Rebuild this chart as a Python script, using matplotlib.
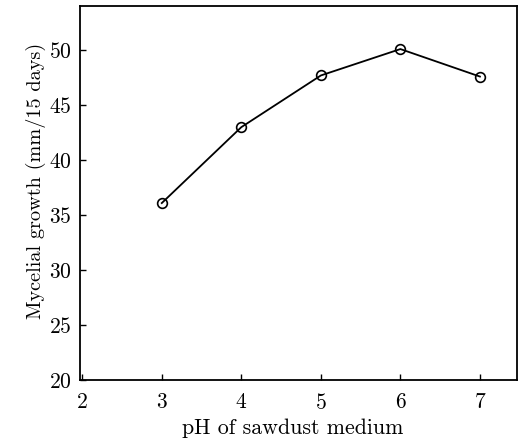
import matplotlib
matplotlib.use("Agg")
from matplotlib import pyplot as plt

# values
ph = [3, 4, 5, 6, 7]
growth = [36.1, 43.0, 47.7, 50.1, 47.6]
xticks = [2, 3, 4, 5, 6, 7]
yticks = [20, 25, 30, 35, 40, 45, 50]

plt.rcParams['font.family'] = ['cmr10', 'DejaVu Serif']
plt.rcParams['axes.formatter.use_mathtext'] = True

fig = plt.figure(figsize=(5.22, 4.4), dpi=100)
ax = fig.add_axes([0.153, 0.136, 0.838, 0.850])

ax.plot(ph, growth, color='black', linewidth=1.3, marker='o',
        markersize=7, markerfacecolor='none', markeredgewidth=1.2)

ax.set_xlim(1.97, 7.47)
ax.set_ylim(20, 54)
ax.set_xticks(xticks)
ax.set_yticks(yticks)
ax.tick_params(direction='in', length=4, width=1, labelsize=15.5)
ax.tick_params(axis='x', pad=9)
ax.tick_params(axis='y', pad=6)

for s in ax.spines.values():
    s.set_linewidth(1.3)

ax.set_xlabel("pH of sawdust medium", fontsize=15.8, va='center')
ax.set_ylabel("Mycelial growth (mm/15 days)", fontsize=14.6, va='center')
ax.xaxis.set_label_coords(0.487, -0.128)
ax.yaxis.set_label_coords(-0.10, 0.532)

plt.savefig('out.png', dpi=100)
